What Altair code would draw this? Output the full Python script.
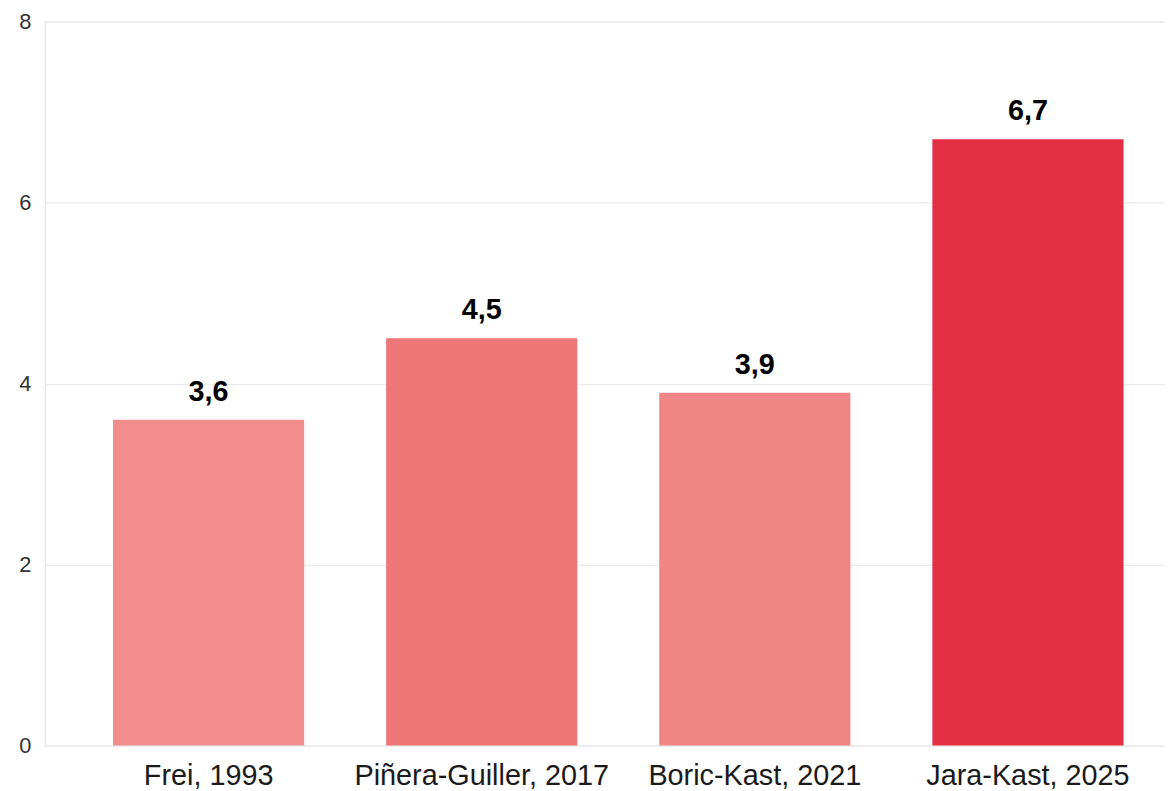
import altair as alt
import pandas as pd

categories = ["Frei, 1993", "Piñera-Guiller, 2017", "Boric-Kast, 2021", "Jara-Kast, 2025"]
values = [3.6, 4.5, 3.9, 6.7]
bar_colors = ["#F28D8D", "#EE7676", "#F08585", "#E32E44"]
y_ticks = [0, 2, 4, 6, 8]

df = pd.DataFrame({
    "cat": categories,
    "val": values,
    "label": [f"{v:.1f}".replace(".", ",") for v in values],
})

FONT = "Liberation Sans"

x_enc = alt.X(
    "cat:N",
    sort=categories,
    scale=alt.Scale(range=[0, 1155], paddingInner=0.3, paddingOuter=0.25),
    axis=alt.Axis(
        title=None, labelAngle=0, ticks=False, domain=False, grid=False,
        labelFontSize=29, labelColor="#1a1a1a", labelPadding=16, labelFont=FONT,
        labelLimit=0,
    ),
)
y_enc = alt.Y(
    "val:Q",
    scale=alt.Scale(domain=[0, 8], nice=False),
    axis=alt.Axis(
        title=None, values=y_ticks, format="d", ticks=False, domain=False,
        gridColor="#EBEBEB", gridWidth=1.2,
        labelFontSize=22, labelColor="#333333", labelPadding=14, labelFont=FONT,
    ),
)

bars = alt.Chart(df).mark_bar().encode(
    x=x_enc,
    y=y_enc,
    color=alt.Color("cat:N", scale=alt.Scale(domain=categories, range=bar_colors), legend=None),
)

text = alt.Chart(df).mark_text(
    baseline="bottom", dy=-13, fontWeight="bold", fontSize=29, font=FONT, color="#000000"
).encode(
    x=alt.X("cat:N", sort=categories),
    y=alt.Y("val:Q"),
    text="label:N",
)

chart = alt.layer(bars, text).properties(
    width=1128,
    height=729,
    autosize=alt.AutoSizeParams(type="none"),
    padding={"left": 37, "top": 11, "right": 0, "bottom": 43},
).configure_view(stroke=None).configure(background="white")

chart.save("out.html", embed_options={"renderer": "svg", "actions": False})
